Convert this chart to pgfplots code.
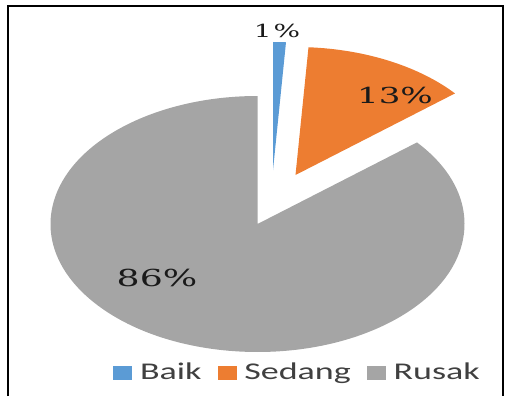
\documentclass[border=0pt]{standalone}
\usepackage{fontspec}
\setmainfont{Carlito}
\newfontfamily\legfont[FakeStretch=1.5]{Carlito}
\newfontfamily\labfont[FakeStretch=1.55]{DejaVu Serif}
\usepackage{pgfplots}
\usepackage{pgfplotstable}
\pgfplotsset{compat=1.18}
\definecolor{cBaik}{HTML}{5B9BD5}
\definecolor{cSedang}{HTML}{ED7D31}
\definecolor{cRusak}{HTML}{A5A5A5}
\definecolor{txt}{HTML}{1A1A1A}
\definecolor{legtxt}{HTML}{404040}
\pgfplotstableread{
label value dx dy col
Baik 1 15.5 54 cBaik
Sedang 13 38 49 cSedang
Rusak 86 0 0 cRusak
}\piedata
\begin{document}
\begin{tikzpicture}
\begin{axis}[
  x=0.5pt, y=0.5pt,
  xmin=0, xmax=508, ymin=0, ymax=396,
  hide axis, clip=false,
  legend style={at={(axis cs:298.5,23)}, anchor=center, draw=none, fill=none,
    font=\legfont\fontsize{12}{13}\selectfont, text=legtxt},
  legend columns=-1,
  legend image code/.code={\fill[#1] (0pt,-3.2pt) rectangle (9pt,3.2pt);},
  /tikz/every odd column/.append style={column sep=2pt},
  /tikz/every even column/.append style={column sep=6pt},
]
\path (axis cs:0,0) rectangle (axis cs:508,396);
\def\cx{257.5}\def\cy{172}
\pgfmathsetmacro{\startang}{90}
\pgfplotsforeachungrouped \i in {0,1,2}{%
  \pgfplotstablegetelem{\i}{value}\of\piedata \let\v\pgfplotsretval
  \pgfplotstablegetelem{\i}{dx}\of\piedata \let\ddx\pgfplotsretval
  \pgfplotstablegetelem{\i}{dy}\of\piedata \let\ddy\pgfplotsretval
  \pgfplotstablegetelem{\i}{col}\of\piedata \let\cc\pgfplotsretval
  \pgfmathsetmacro{\endang}{\startang-3.6*\v}%
  \pgfmathsetmacro{\ox}{\cx+\ddx}%
  \pgfmathsetmacro{\oy}{\cy+\ddy}%
  \pgfmathsetmacro{\sx}{\ox+207*cos(\startang)}%
  \pgfmathsetmacro{\sy}{\oy+128*sin(\startang)}%
  \edef\temp{\noexpand\fill[\cc] (axis cs:\ox,\oy) -- (axis cs:\sx,\sy) arc[start angle=\startang, end angle=\endang, x radius=103.5pt, y radius=64pt] -- cycle;}%
  \temp
  \global\let\startang\endang
}
\node[text=txt, font=\labfont\fontsize{9}{10}\selectfont] at (axis cs:277,365) {1\hspace{1pt}\%};
\node[text=txt, font=\labfont\fontsize{11}{12}\selectfont] at (axis cs:395,301) {13\%};
\node[text=txt, font=\labfont\fontsize{11.7}{13}\selectfont] at (axis cs:157,118) {86\%};
\draw[line width=1pt, black] (axis cs:8,0) -- (axis cs:8,390) -- (axis cs:503,390) -- (axis cs:503,0);
\addlegendimage{cBaik}\addlegendentry{Baik}
\addlegendimage{cSedang}\addlegendentry{Sedang}
\addlegendimage{cRusak}\addlegendentry{Rusak}
\end{axis}
\end{tikzpicture}
\end{document}
